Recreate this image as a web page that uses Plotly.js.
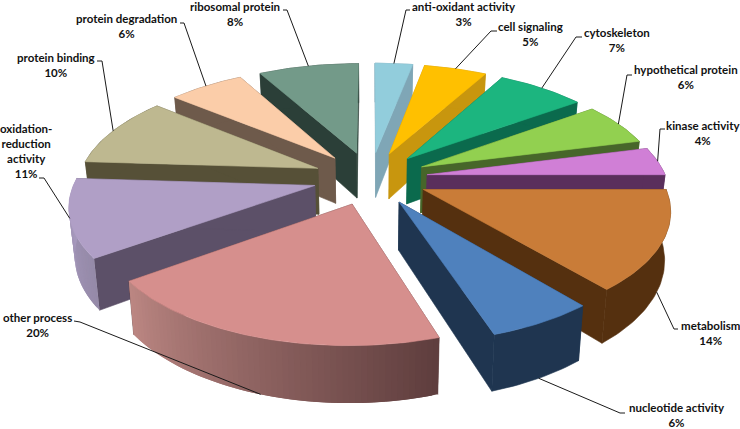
<!DOCTYPE html>
<html>
<head>
<meta charset="utf-8">
<script src="https://cdn.plot.ly/plotly-3.0.1.min.js"></script>
<style>html,body{margin:0;padding:0;background:#fff}#c{width:740px;height:429px}</style>
</head>
<body>
<div id="c"></div>
<script>
// ---- data (clockwise from 12 o'clock) ----
const categories = ["anti-oxidant activity","cell signaling","cytoskeleton","hypothetical protein","kinase activity","metabolism","nucleotide activity","other process","oxidation-<br>reduction<br>activity","protein binding","protein degradation","ribosomal protein"];
const percents = [3,5,7,6,4,14,6,20,11,10,6,8];
// ---- styles ----
const topColors = ["#92CDDC","#FFC000","#1CB57F","#92D050","#D07FD6","#C97C38","#4F81BD","#D68F8D","#B09FC6","#BEB890","#FBCDA9","#739A89"];
const radialColors = ["#7FA6B6","#C8960E","#0B6A4D","#47662A","#5A2F5C","#55300F","#1F3550","#5E3E3E","#5C5068","#565037","#6E5A4B","#2B3F38"];
const wallStart = ["#7FA6B6","#C8960E","#0B6A4D","#47662A","#5A2F5C","#55300F","#1F3550","#5E3D3D","#958AA8","#565037","#6E5A4B","#2B3F38"];
const wallEnd = ["#7FA6B6","#C8960E","#0B6A4D","#47662A","#5A2F5C","#55300F","#1F3550","#BC8783","#AB9CC2","#565037","#6E5A4B","#2B3F38"];
// ---- label layout ----
const labelX = [464,530,617,686,703,710,677,37,26,56,126,235];
const labelY = [14,34,40,77,133,333,415,325,151,65,26,14];
const elbowA = [[410,10],[497,31],[582,37],[632,75],[665,129],[678,329],[625,413],[74,321],[39,178],[97,61],[180,23],[283,10]];
const elbowB = [[406,10],[491,31],[576,37],[627,75],[660,129],[674,329],[620,413],[80,322],[44,178],[102,61],[184,23],[287,10]];
const anchorOnBase = [0,0,0,0,0,1,1,1,0,0,0,0];
// ---- projection of the exploded 3D pie ----
const cx=370.5, cy=178, B=239, A=110.5, k=0.155, H=46.5, explode=0.24, baseShrink=0.98;
function project(X,Y,base){
  const s=1/(1+k*Y);
  let x=cx+B*X*s, y=cy-A*Y*s;
  if(base){ y+=H*s; x=cx+(x-cx)*baseShrink; }
  return [x,y];
}
const rad=d=>d*Math.PI/180;
function hex(c){return [1,3,5].map(i=>parseInt(c.substr(i,2),16));}
function mix(a,b,t){const p=hex(a),q=hex(b);return 'rgb('+p.map((v,i)=>Math.round(v+(q[i]-v)*t)).join(',')+')';}
const total=percents.reduce((a,b)=>a+b,0);
let cum=0;
const slices=percents.map((v,i)=>{
  const a0=cum/total*360; cum+=v; const a1=cum/total*360; const m=(a0+a1)/2;
  return {i,a0,a1,m,ox:explode*Math.sin(rad(m)),oy:explode*Math.cos(rad(m))};
});
function poly(pts,color,w){
  const xs=pts.map(p=>p[0]).concat([pts[0][0]]), ys=pts.map(p=>p[1]).concat([pts[0][1]]);
  return {type:'scatter',mode:'lines',x:xs,y:ys,fill:'toself',fillcolor:color,line:{color:color,width:w===undefined?0.6:w},hoverinfo:'skip',showlegend:false};
}
const traces=[];
slices.slice().sort((p,q)=>Math.cos(rad(q.m))-Math.cos(rad(p.m))).forEach(s=>{
  const pt=(a,r)=>[s.ox+r*Math.sin(rad(a)),s.oy+r*Math.cos(rad(a))];
  const tip=[s.ox,s.oy];
  const P=(q,b)=>project(q[0],q[1],b);
  // radial walls
  const e0=pt(s.a0,1), e1=pt(s.a1,1);
  traces.push(poly([P(tip,0),P(e0,0),P(e0,1),P(tip,1)],radialColors[s.i]));
  traces.push(poly([P(tip,0),P(e1,0),P(e1,1),P(tip,1)],radialColors[s.i]));
  // outer wall: one polygon when flat, overlapping strips when it has a gradient
  const n=Math.max(4,Math.ceil((s.a1-s.a0)/1.2));
  const angle=j=>s.a0+(s.a1-s.a0)*j/n;
  if(wallStart[s.i]===wallEnd[s.i]){
    const upper=[],lower=[];
    for(let j=0;j<=n;j++){ upper.push(P(pt(angle(j),1),0)); lower.unshift(P(pt(angle(j),1),1)); }
    traces.push(poly(upper.concat(lower),wallStart[s.i]));
  } else {
    for(let j=0;j<n;j++){
      const b=angle(Math.min(n,j+2));
      traces.push(poly([P(pt(angle(j),1),0),P(pt(b,1),0),P(pt(b,1),1),P(pt(angle(j),1),1)],mix(wallStart[s.i],wallEnd[s.i],(j+.5)/n),0));
    }
  }
  // top face
  const top=[P(tip,0)];
  for(let j=0;j<=n;j++) top.push(P(pt(angle(j),1),0));
  traces.push(poly(top,topColors[s.i]));
});
// leader lines
slices.forEach(s=>{
  const q=[s.ox+Math.sin(rad(s.m)),s.oy+Math.cos(rad(s.m))];
  const e=project(q[0],q[1],anchorOnBase[s.i]);
  traces.push({type:'scatter',mode:'lines',x:[elbowA[s.i][0],elbowB[s.i][0],e[0]],y:[elbowA[s.i][1],elbowB[s.i][1],e[1]],
    line:{color:'#1a1a1a',width:1},hoverinfo:'skip',showlegend:false});
});
const annotations=categories.map((c,i)=>({x:labelX[i],y:labelY[i],xref:'x',yref:'y',showarrow:false,xanchor:'center',yanchor:'middle',align:'center',
  text:c+'<br>'+percents[i]+'%',font:{family:'Lato, sans-serif',size:11.5,color:'#111',weight:700},bgcolor:'rgba(0,0,0,0)'}));
Plotly.newPlot('c',traces,{
  width:740,height:429,margin:{l:0,r:0,t:0,b:0},paper_bgcolor:'#fff',plot_bgcolor:'#fff',showlegend:false,
  xaxis:{range:[0,740],visible:false,fixedrange:true},
  yaxis:{range:[429,0],visible:false,fixedrange:true},
  annotations
},{displayModeBar:false,staticPlot:true});
</script>
</body>
</html>
